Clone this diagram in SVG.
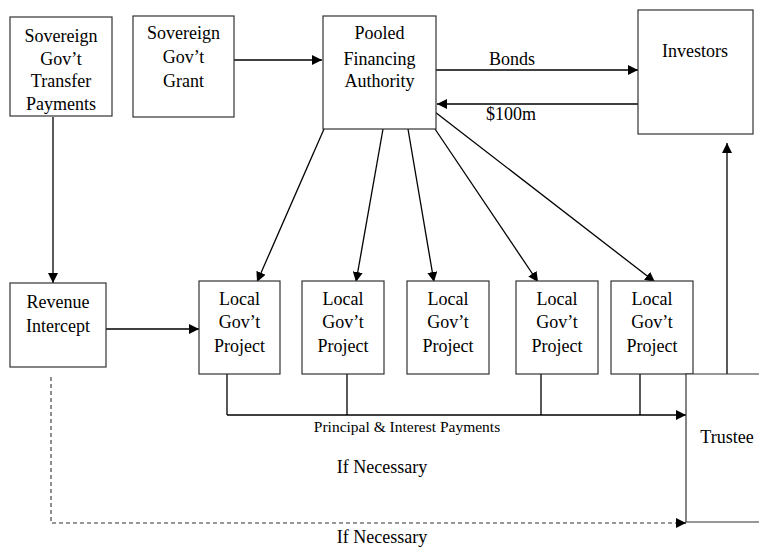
<svg xmlns="http://www.w3.org/2000/svg" width="759" height="550" viewBox="0 0 759 550">
<style>
  .box { fill: #fff; stroke: #333; stroke-width: 1.2; }
  .t { font-family: "Liberation Serif", "Times New Roman", serif; font-size: 18px; fill: #000; text-anchor: middle; }
  .ts { font-family: "Liberation Serif", "Times New Roman", serif; font-size: 15.5px; fill: #000; text-anchor: middle; }
  .ln { fill: none; stroke: #000; stroke-width: 1.3; }
  .dash { fill: none; stroke: #333; stroke-width: 1.1; stroke-dasharray: 4 3; }
</style>
<defs>
  <marker id="ah" viewBox="0 0 10 10" refX="10" refY="5" markerWidth="10" markerHeight="10" markerUnits="userSpaceOnUse" orient="auto">
    <path d="M0,0 L10,5 L0,10 z" fill="#000"/>
  </marker>
</defs>
<rect width="759" height="550" fill="#fff"/>

<g id="connectors">
  <line class="ln" x1="234" y1="60" x2="322" y2="60" marker-end="url(#ah)"/>
  <line class="ln" x1="436" y1="70" x2="638" y2="70" marker-end="url(#ah)"/>
  <line class="ln" x1="639" y1="104" x2="437" y2="104" marker-end="url(#ah)"/>
  <line class="ln" x1="53" y1="117" x2="53" y2="283" marker-end="url(#ah)"/>
  <line class="ln" x1="106" y1="329" x2="199" y2="329" marker-end="url(#ah)"/>
  <line class="ln" x1="324" y1="129" x2="257" y2="282" marker-end="url(#ah)"/>
  <line class="ln" x1="383" y1="129" x2="356" y2="282" marker-end="url(#ah)"/>
  <line class="ln" x1="408" y1="129" x2="434" y2="282" marker-end="url(#ah)"/>
  <line class="ln" x1="435" y1="129" x2="538" y2="282" marker-end="url(#ah)"/>
  <line class="ln" x1="435" y1="112" x2="655" y2="282" marker-end="url(#ah)"/>
  <path class="ln" d="M227,374 V415 M347,374 V415 M541,374 V415 M640,374 V415"/>
  <line class="ln" x1="227" y1="415" x2="686" y2="415" marker-end="url(#ah)"/>
  <line class="ln" x1="727" y1="376" x2="727" y2="143" marker-end="url(#ah)"/>
  <path class="dash" d="M51,377 V523 H680"/>
  <line class="ln" x1="678" y1="523" x2="686" y2="523" marker-end="url(#ah)"/>
  <text class="t" x="512" y="65">Bonds</text>
  <text class="t" x="511" y="120">$100m</text>
  <text class="ts" x="407" y="432">Principal &amp; Interest Payments</text>
  <text class="t" x="382" y="473">If Necessary</text>
  <text class="t" x="382" y="543">If Necessary</text>
</g>

<g id="transfer">
  <rect class="box" x="10" y="17" width="102" height="99"/>
  <text class="t" x="61" y="42">Sovereign</text>
  <text class="t" x="61" y="65">Gov’t</text>
  <text class="t" x="61" y="87">Transfer</text>
  <text class="t" x="61" y="110">Payments</text>
</g>
<g id="grant">
  <rect class="box" x="133" y="16" width="101" height="101"/>
  <text class="t" x="183.5" y="39">Sovereign</text>
  <text class="t" x="183.5" y="63">Gov’t</text>
  <text class="t" x="183.5" y="87">Grant</text>
</g>
<g id="pfa">
  <rect class="box" x="323" y="16" width="113" height="113"/>
  <text class="t" x="379.5" y="39">Pooled</text>
  <text class="t" x="379.5" y="65">Financing</text>
  <text class="t" x="379.5" y="87">Authority</text>
</g>
<g id="investors">
  <rect class="box" x="638" y="10" width="115" height="124"/>
  <text class="t" x="695" y="57">Investors</text>
</g>
<g id="revenue">
  <rect class="box" x="10" y="283" width="96" height="84"/>
  <text class="t" x="58" y="308">Revenue</text>
  <text class="t" x="58" y="332">Intercept</text>
</g>
<g id="local1">
  <rect class="box" x="199" y="281" width="81" height="93"/>
  <text class="t" x="239.5" y="305">Local</text>
  <text class="t" x="239.5" y="328">Gov’t</text>
  <text class="t" x="239.5" y="352">Project</text>
</g>
<g id="local2">
  <rect class="box" x="302" y="281" width="82" height="93"/>
  <text class="t" x="343" y="305">Local</text>
  <text class="t" x="343" y="328">Gov’t</text>
  <text class="t" x="343" y="352">Project</text>
</g>
<g id="local3">
  <rect class="box" x="407" y="281" width="82" height="93"/>
  <text class="t" x="448" y="305">Local</text>
  <text class="t" x="448" y="328">Gov’t</text>
  <text class="t" x="448" y="352">Project</text>
</g>
<g id="local4">
  <rect class="box" x="516" y="281" width="82" height="93"/>
  <text class="t" x="557" y="305">Local</text>
  <text class="t" x="557" y="328">Gov’t</text>
  <text class="t" x="557" y="352">Project</text>
</g>
<g id="local5">
  <rect class="box" x="611" y="281" width="82" height="93"/>
  <text class="t" x="652" y="305">Local</text>
  <text class="t" x="652" y="328">Gov’t</text>
  <text class="t" x="652" y="352">Project</text>
</g>
<g id="trustee">
  <path class="box" fill="none" d="M759,374 H686 V522 H759"/>
  <text class="t" x="727" y="443">Trustee</text>
</g>
</svg>
